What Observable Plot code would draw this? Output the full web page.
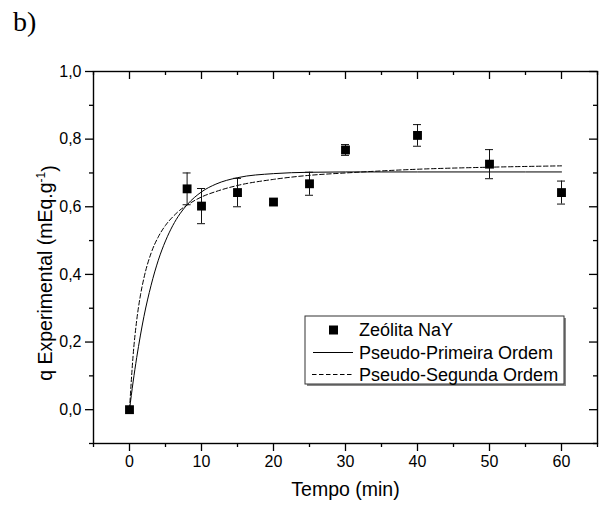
<!DOCTYPE html>
<html><head><meta charset="utf-8">
<script src="https://cdn.jsdelivr.net/npm/d3@7"></script>
<script src="https://cdn.jsdelivr.net/npm/@observablehq/plot@0.6"></script>
<style>
body{margin:0;background:#fff;}
#chart{position:relative;width:600px;height:508px;}
</style></head><body><div id="chart"></div>
<script>
// Experimental points (Zeólita NaY)
const tData   = [0, 8, 10, 15, 20, 25, 30, 40, 50, 60];
const qData   = [0, 0.653, 0.602, 0.642, 0.614, 0.668, 0.768, 0.811, 0.726, 0.642];
const errData = [0, 0.047, 0.052, 0.042, 0.008, 0.034, 0.016, 0.032, 0.043, 0.034];
// Fitted curves
const tFit        = [0, 0.5, 1, 1.5, 2, 3, 4, 5, 6, 7, 8, 10, 12, 15, 20, 25, 30, 40, 50, 60];
const qPrimeira   = [0, 0.082, 0.154, 0.218, 0.275, 0.368, 0.442, 0.499, 0.544, 0.579, 0.606, 0.644, 0.667, 0.686, 0.698, 0.702, 0.703, 0.703, 0.703, 0.703];
const qSegunda    = [0, 0.160, 0.264, 0.336, 0.389, 0.463, 0.511, 0.545, 0.570, 0.590, 0.605, 0.629, 0.645, 0.663, 0.681, 0.693, 0.700, 0.711, 0.717, 0.721];
// Ticks
const xMajor = [0, 10, 20, 30, 40, 50, 60];
const xMinor = [-5, 5, 15, 25, 35, 45, 55, 65];
const yMajor = [0, 0.2, 0.4, 0.6, 0.8, 1.0];
const yMinor = [-0.1, 0.1, 0.3, 0.5, 0.7, 0.9];
const seriesNames = ["Zeólita NaY", "Pseudo-Primeira Ordem", "Pseudo-Segunda Ordem"];

const W = 600, H = 508, mt = 71, mr = 3, mb = 65, ml = 93;
const ph = H - mt - mb, pw = W - ml - mr;
const fmtY = d => d.toFixed(1).replace(".", ",");
const pts = tData.map((t, i) => ({t, q: qData[i], e: errData[i]}));
const errPts = pts.filter(d => d.e > 0);
const fit1 = tFit.map((t, i) => ({t, q: qPrimeira[i]}));
const fit2 = tFit.map((t, i) => ({t, q: qSegunda[i]}));
const font = "'Liberation Sans', Arial, sans-serif";

const plot = Plot.plot({
  width: W, height: H,
  marginTop: mt, marginRight: mr, marginBottom: mb, marginLeft: ml,
  x: {domain: [-5, 65]},
  y: {domain: [-0.1, 1.0]},
  style: {fontFamily: font, fontSize: "16px", color: "#000", background: "#fff"},
  marks: [
    Plot.axisX({ticks: xMajor, tickSize: 8, tickPadding: 4, fontSize: 16, label: null, strokeWidth: 1.3}),
    Plot.axisX({ticks: xMinor, tickSize: 4, text: null, label: null, strokeWidth: 1.3}),
    Plot.axisY({ticks: yMajor, tickSize: 8, tickPadding: 4, tickFormat: fmtY, fontSize: 16, label: null, strokeWidth: 1.3}),
    Plot.axisY({ticks: yMinor, tickSize: 4, text: null, label: null, strokeWidth: 1.3}),
    Plot.ruleX(xMajor, {x: d => d, insetBottom: ph - 8, strokeWidth: 1.3}),
    Plot.ruleX(xMinor, {x: d => d, insetBottom: ph - 4, strokeWidth: 1.3}),
    Plot.ruleY(yMajor, {y: d => d, insetLeft: pw - 8, strokeWidth: 1.3}),
    Plot.ruleY(yMinor, {y: d => d, insetLeft: pw - 4, strokeWidth: 1.3}),
    Plot.frame({stroke: "#000", strokeWidth: 1.4}),
    Plot.line(fit1, {x: "t", y: "q", curve: "monotone-x", stroke: "#000", strokeWidth: 1}),
    Plot.line(fit2, {x: "t", y: "q", curve: "monotone-x", stroke: "#000", strokeWidth: 1, strokeDasharray: "4.5,2.5"}),
    Plot.ruleX(errPts, {x: "t", y1: d => d.q - d.e, y2: d => d.q + d.e, stroke: "#111", strokeWidth: 1}),
    Plot.ruleY(errPts, {y: d => d.q + d.e, x1: "t", x2: "t", insetLeft: -4, insetRight: -4, stroke: "#111", strokeWidth: 1}),
    Plot.ruleY(errPts, {y: d => d.q - d.e, x1: "t", x2: "t", insetLeft: -4, insetRight: -4, stroke: "#111", strokeWidth: 1}),
    Plot.dot(pts, {x: "t", y: "q", symbol: "square", fill: "#000", stroke: null, r: 5}),
    Plot.text(["Tempo (min)"], {text: d => d, frameAnchor: "bottom", dy: 52, fontSize: 19.5, fill: "#000"})
  ]
});

const svg = d3.select(plot);
// y-axis title with superscript
const yl = svg.append("text")
  .attr("transform", "translate(52,273) rotate(-90)")
  .attr("text-anchor", "middle")
  .style("font-family", font).style("font-size", "19.5px").attr("fill", "#000");
yl.append("tspan").text("q Experimental (mEq.g");
yl.append("tspan").attr("dy", "-0.55em").style("font-size", "12px").text("-1");
yl.append("tspan").attr("dy", "0.55em").text(")");

// panel label
svg.append("text").attr("x", 13).attr("y", 31).attr("text-anchor", "start")
  .style("font-family", "'Liberation Serif', 'Times New Roman', serif").style("font-size", "28px")
  .attr("fill", "#000").text("b)");

// legend
const lg = svg.append("g");
lg.append("rect").attr("x", 307).attr("y", 318).attr("width", 259).attr("height", 68).attr("fill", "#888");
lg.append("rect").attr("x", 305).attr("y", 316).attr("width", 259).attr("height", 68)
  .attr("fill", "#fff").attr("stroke", "#333").attr("stroke-width", 1);
const rows = [330, 352.5, 374.5];
lg.append("rect").attr("x", 329).attr("y", rows[0] - 4.5).attr("width", 9).attr("height", 9).attr("fill", "#000");
lg.append("line").attr("x1", 313).attr("x2", 353).attr("y1", rows[1]).attr("y2", rows[1]).attr("stroke", "#000");
lg.append("line").attr("x1", 312).attr("x2", 354).attr("y1", rows[2]).attr("y2", rows[2]).attr("stroke", "#000").attr("stroke-dasharray", "4.5,2.5");
seriesNames.forEach((s, i) => {
  lg.append("text").attr("x", 359).attr("y", rows[i]).attr("dy", "0.36em").attr("text-anchor", "start")
    .style("font-family", font).style("font-size", "18px").attr("fill", "#000").text(s);
});

document.getElementById("chart").appendChild(plot);
</script>
</body></html>
